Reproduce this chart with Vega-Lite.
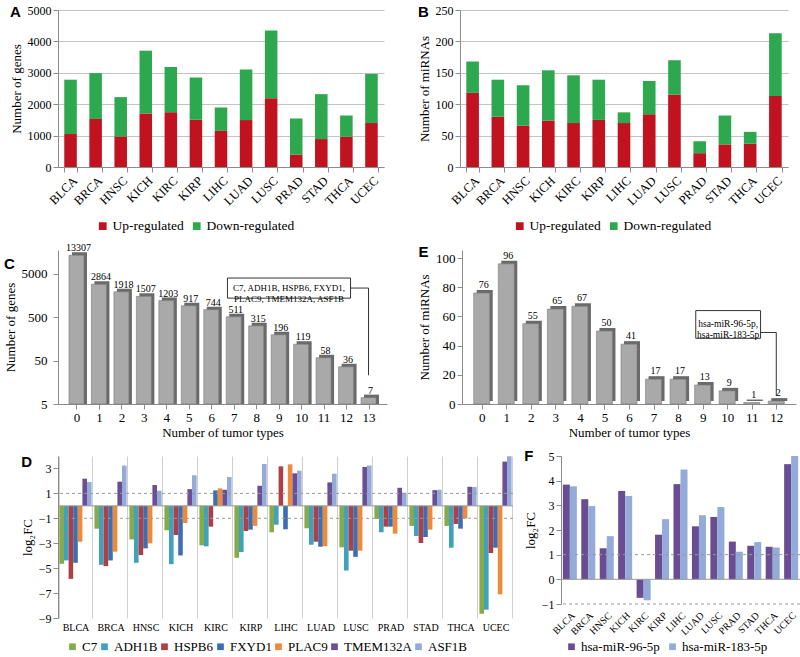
{
  "$schema": "https://vega.github.io/schema/vega-lite/v6.json",
  "padding": {"left": 4, "top": 4, "right": 2, "bottom": 0},
  "background": "white",
  "datasets": {
    "genes": [
      {"t":"BLCA","g":"Up-regulated","n":1050},{"t":"BLCA","g":"Down-regulated","n":1730},
      {"t":"BRCA","g":"Up-regulated","n":1530},{"t":"BRCA","g":"Down-regulated","n":1460},
      {"t":"HNSC","g":"Up-regulated","n":975},{"t":"HNSC","g":"Down-regulated","n":1250},
      {"t":"KICH","g":"Up-regulated","n":1705},{"t":"KICH","g":"Down-regulated","n":2000},
      {"t":"KIRC","g":"Up-regulated","n":1745},{"t":"KIRC","g":"Down-regulated","n":1440},
      {"t":"KIRP","g":"Up-regulated","n":1505},{"t":"KIRP","g":"Down-regulated","n":1345},
      {"t":"LIHC","g":"Up-regulated","n":1150},{"t":"LIHC","g":"Down-regulated","n":745},
      {"t":"LUAD","g":"Up-regulated","n":1495},{"t":"LUAD","g":"Down-regulated","n":1610},
      {"t":"LUSC","g":"Up-regulated","n":2190},{"t":"LUSC","g":"Down-regulated","n":2160},
      {"t":"PRAD","g":"Up-regulated","n":390},{"t":"PRAD","g":"Down-regulated","n":1155},
      {"t":"STAD","g":"Up-regulated","n":890},{"t":"STAD","g":"Down-regulated","n":1430},
      {"t":"THCA","g":"Up-regulated","n":965},{"t":"THCA","g":"Down-regulated","n":675},
      {"t":"UCEC","g":"Up-regulated","n":1400},{"t":"UCEC","g":"Down-regulated","n":1565}
    ],
    "mirnas": [
      {"t":"BLCA","g":"Up-regulated","n":118},{"t":"BLCA","g":"Down-regulated","n":50},
      {"t":"BRCA","g":"Up-regulated","n":80},{"t":"BRCA","g":"Down-regulated","n":59},
      {"t":"HNSC","g":"Up-regulated","n":66},{"t":"HNSC","g":"Down-regulated","n":64},
      {"t":"KICH","g":"Up-regulated","n":74},{"t":"KICH","g":"Down-regulated","n":80},
      {"t":"KIRC","g":"Up-regulated","n":70},{"t":"KIRC","g":"Down-regulated","n":76},
      {"t":"KIRP","g":"Up-regulated","n":75},{"t":"KIRP","g":"Down-regulated","n":64},
      {"t":"LIHC","g":"Up-regulated","n":70},{"t":"LIHC","g":"Down-regulated","n":17},
      {"t":"LUAD","g":"Up-regulated","n":84},{"t":"LUAD","g":"Down-regulated","n":53},
      {"t":"LUSC","g":"Up-regulated","n":115},{"t":"LUSC","g":"Down-regulated","n":55},
      {"t":"PRAD","g":"Up-regulated","n":22},{"t":"PRAD","g":"Down-regulated","n":19},
      {"t":"STAD","g":"Up-regulated","n":36},{"t":"STAD","g":"Down-regulated","n":46},
      {"t":"THCA","g":"Up-regulated","n":37},{"t":"THCA","g":"Down-regulated","n":19},
      {"t":"UCEC","g":"Up-regulated","n":113},{"t":"UCEC","g":"Down-regulated","n":100}
    ],
    "cgenes": [
      {"k":0,"n":13307},{"k":1,"n":2864},{"k":2,"n":1918},{"k":3,"n":1507},{"k":4,"n":1203},
      {"k":5,"n":917},{"k":6,"n":744},{"k":7,"n":511},{"k":8,"n":315},{"k":9,"n":196},
      {"k":10,"n":119},{"k":11,"n":58},{"k":12,"n":36},{"k":13,"n":7}
    ],
    "emirnas": [
      {"k":0,"n":76},{"k":1,"n":96},{"k":2,"n":55},{"k":3,"n":65},{"k":4,"n":67},
      {"k":5,"n":50},{"k":6,"n":41},{"k":7,"n":17},{"k":8,"n":17},{"k":9,"n":13},
      {"k":10,"n":9},{"k":11,"n":1},{"k":12,"n":2}
    ],
    "dfc": [
      {"t":"BLCA","gene":"C7","v":-4.65},{"t":"BLCA","gene":"ADH1B","v":-4.38},{"t":"BLCA","gene":"HSPB6","v":-5.86},{"t":"BLCA","gene":"FXYD1","v":-4.57},{"t":"BLCA","gene":"PLAC9","v":-2.88},{"t":"BLCA","gene":"TMEM132A","v":2.18},{"t":"BLCA","gene":"ASF1B","v":1.91},
      {"t":"BRCA","gene":"C7","v":-1.83},{"t":"BRCA","gene":"ADH1B","v":-4.73},{"t":"BRCA","gene":"HSPB6","v":-4.84},{"t":"BRCA","gene":"FXYD1","v":-4.38},{"t":"BRCA","gene":"PLAC9","v":-3.68},{"t":"BRCA","gene":"TMEM132A","v":1.94},{"t":"BRCA","gene":"ASF1B","v":3.23},
      {"t":"HNSC","gene":"C7","v":-2.69},{"t":"HNSC","gene":"ADH1B","v":-4.57},{"t":"HNSC","gene":"HSPB6","v":-3.95},{"t":"HNSC","gene":"FXYD1","v":-3.41},{"t":"HNSC","gene":"PLAC9","v":-3.01},{"t":"HNSC","gene":"TMEM132A","v":1.67},{"t":"HNSC","gene":"ASF1B","v":1.21},
      {"t":"KICH","gene":"C7","v":-1.96},{"t":"KICH","gene":"ADH1B","v":-4.68},{"t":"KICH","gene":"HSPB6","v":-2.34},{"t":"KICH","gene":"FXYD1","v":-3.98},{"t":"KICH","gene":"PLAC9","v":-1.37},{"t":"KICH","gene":"TMEM132A","v":1.34},{"t":"KICH","gene":"ASF1B","v":2.45},
      {"t":"KIRC","gene":"C7","v":-3.17},{"t":"KIRC","gene":"ADH1B","v":-3.25},{"t":"KIRC","gene":"HSPB6","v":-1.67},{"t":"KIRC","gene":"FXYD1","v":1.24},{"t":"KIRC","gene":"PLAC9","v":1.4},{"t":"KIRC","gene":"TMEM132A","v":1.29},{"t":"KIRC","gene":"ASF1B","v":2.31},
      {"t":"KIRP","gene":"C7","v":-4.17},{"t":"KIRP","gene":"ADH1B","v":-3.71},{"t":"KIRP","gene":"HSPB6","v":-2.02},{"t":"KIRP","gene":"FXYD1","v":-1.91},{"t":"KIRP","gene":"PLAC9","v":-1.61},{"t":"KIRP","gene":"TMEM132A","v":1.61},{"t":"KIRP","gene":"ASF1B","v":3.36},
      {"t":"LIHC","gene":"C7","v":-2.12},{"t":"LIHC","gene":"ADH1B","v":-1.51},{"t":"LIHC","gene":"HSPB6","v":3.17},{"t":"LIHC","gene":"FXYD1","v":-1.88},{"t":"LIHC","gene":"PLAC9","v":3.33},{"t":"LIHC","gene":"TMEM132A","v":2.61},{"t":"LIHC","gene":"ASF1B","v":2.82},
      {"t":"LUAD","gene":"C7","v":-1.8},{"t":"LUAD","gene":"ADH1B","v":-3.12},{"t":"LUAD","gene":"HSPB6","v":-2.88},{"t":"LUAD","gene":"FXYD1","v":-3.28},{"t":"LUAD","gene":"PLAC9","v":-3.23},{"t":"LUAD","gene":"TMEM132A","v":1.88},{"t":"LUAD","gene":"ASF1B","v":2.58},
      {"t":"LUSC","gene":"C7","v":-3.33},{"t":"LUSC","gene":"ADH1B","v":-5.19},{"t":"LUSC","gene":"HSPB6","v":-3.6},{"t":"LUSC","gene":"FXYD1","v":-4.09},{"t":"LUSC","gene":"PLAC9","v":-3.6},{"t":"LUSC","gene":"TMEM132A","v":3.12},{"t":"LUSC","gene":"ASF1B","v":3.23},
      {"t":"PRAD","gene":"C7","v":-1.05},{"t":"PRAD","gene":"ADH1B","v":-2.12},{"t":"PRAD","gene":"HSPB6","v":-1.67},{"t":"PRAD","gene":"FXYD1","v":-1.67},{"t":"PRAD","gene":"PLAC9","v":-2.23},{"t":"PRAD","gene":"TMEM132A","v":1.45},{"t":"PRAD","gene":"ASF1B","v":1.05},
      {"t":"STAD","gene":"C7","v":-1.61},{"t":"STAD","gene":"ADH1B","v":-2.42},{"t":"STAD","gene":"HSPB6","v":-2.98},{"t":"STAD","gene":"FXYD1","v":-2.5},{"t":"STAD","gene":"PLAC9","v":-1.91},{"t":"STAD","gene":"TMEM132A","v":1.26},{"t":"STAD","gene":"ASF1B","v":1.29},
      {"t":"THCA","gene":"C7","v":-1.61},{"t":"THCA","gene":"ADH1B","v":-3.36},{"t":"THCA","gene":"HSPB6","v":-1.45},{"t":"THCA","gene":"FXYD1","v":-1.83},{"t":"THCA","gene":"PLAC9","v":-1.02},{"t":"THCA","gene":"TMEM132A","v":1.53},{"t":"THCA","gene":"ASF1B","v":1.51},
      {"t":"UCEC","gene":"C7","v":-8.66},{"t":"UCEC","gene":"ADH1B","v":-8.33},{"t":"UCEC","gene":"HSPB6","v":-3.79},{"t":"UCEC","gene":"FXYD1","v":-3.36},{"t":"UCEC","gene":"PLAC9","v":-7.1},{"t":"UCEC","gene":"TMEM132A","v":3.55},{"t":"UCEC","gene":"ASF1B","v":3.98}
    ],
    "ffc": [
      {"t":"BLCA","m":"hsa-miR-96-5p","v":3.84},{"t":"BLCA","m":"hsa-miR-183-5p","v":3.77},
      {"t":"BRCA","m":"hsa-miR-96-5p","v":3.25},{"t":"BRCA","m":"hsa-miR-183-5p","v":2.97},
      {"t":"HNSC","m":"hsa-miR-96-5p","v":1.26},{"t":"HNSC","m":"hsa-miR-183-5p","v":1.75},
      {"t":"KICH","m":"hsa-miR-96-5p","v":3.58},{"t":"KICH","m":"hsa-miR-183-5p","v":3.38},
      {"t":"KIRC","m":"hsa-miR-96-5p","v":-0.75},{"t":"KIRC","m":"hsa-miR-183-5p","v":-0.85},
      {"t":"KIRP","m":"hsa-miR-96-5p","v":1.81},{"t":"KIRP","m":"hsa-miR-183-5p","v":2.44},
      {"t":"LIHC","m":"hsa-miR-96-5p","v":3.86},{"t":"LIHC","m":"hsa-miR-183-5p","v":4.45},
      {"t":"LUAD","m":"hsa-miR-96-5p","v":2.15},{"t":"LUAD","m":"hsa-miR-183-5p","v":2.6},
      {"t":"LUSC","m":"hsa-miR-96-5p","v":2.53},{"t":"LUSC","m":"hsa-miR-183-5p","v":2.93},
      {"t":"PRAD","m":"hsa-miR-96-5p","v":1.53},{"t":"PRAD","m":"hsa-miR-183-5p","v":1.12},
      {"t":"STAD","m":"hsa-miR-96-5p","v":1.36},{"t":"STAD","m":"hsa-miR-183-5p","v":1.51},
      {"t":"THCA","m":"hsa-miR-96-5p","v":1.32},{"t":"THCA","m":"hsa-miR-183-5p","v":1.29},
      {"t":"UCEC","m":"hsa-miR-96-5p","v":4.67},{"t":"UCEC","m":"hsa-miR-183-5p","v":5.0}
    ],
    "thresh": [{"y":1},{"y":-1}],
    "zero": [{"y":0}],
    "cbox": [{"x1":6.72,"x2":12.2,"y1":1370,"y2":3980}],
    "ctext": [{"x":9.46,"y":2330,"label":"C7, ADH1B, HSPB6, FXYD1,\nPLAC9, TMEM132A, ASF1B"}],
    "cline": [{"x":12.2,"y":2340,"o":1},{"x":13,"y":2340,"o":2},{"x":13,"y":23,"o":3}],
    "ebox": [{"x1":8.72,"x2":11.36,"y1":45,"y2":64}],
    "etext": [{"x":10.04,"y":54.5,"label":"hsa-miR-96-5p,\nhsa-miR-183-5p"}],
    "eline": [{"x":11.36,"y":49,"o":1},{"x":12,"y":49,"o":2},{"x":12,"y":5.5,"o":3}]
  },
  "config": {
    "font": "Liberation Serif",
    "view": {"stroke": null},
    "axis": {
      "labelFont": "Liberation Serif", "titleFont": "Liberation Serif",
      "titleFontWeight": "normal", "labelColor": "#000", "titleColor": "#000",
      "domainColor": "#8c8c8c", "tickColor": "#8c8c8c", "labelFontSize": 12, "titleFontSize": 13,
      "grid": false, "labelOverlap": false
    },
    "legend": {
      "labelFont": "Liberation Serif", "labelFontSize": 13, "labelColor": "#000",
      "symbolType": "square", "symbolStrokeWidth": 0, "orient": "none", "direction": "horizontal", "title": null
    },
    "title": {"font": "Liberation Sans", "fontWeight": "bold", "fontSize": 15, "anchor": "start", "frame": "bounds", "color": "#000"}
  },
  "spacing": 10,
  "resolve": {"scale": {"color": "independent", "xOffset": "independent"}, "legend": {"color": "independent"}},
  "vconcat": [
    {
      "spacing": 34,
      "resolve": {"scale": {"color": "independent"}, "legend": {"color": "independent"}},
      "hconcat": [
        {
          "width": 326, "height": 157,
          "title": {"text": "A", "offset": -16},
          "data": {"name": "genes"},
          "mark": {"type": "bar"},
          "encoding": {
            "x": {"field": "t", "type": "nominal", "sort": null, "title": null,
                  "scale": {"paddingInner": 0.5, "paddingOuter": 0.25},
                  "axis": {"labelAngle": -45, "labelFontSize": 12.5, "tickBand": "extent", "labelPadding": 2}},
            "y": {"field": "n", "type": "quantitative", "stack": "zero", "title": "Number of genes",
                  "scale": {"domain": [0, 5000]},
                  "axis": {"values": [0,1000,2000,3000,4000,5000], "format": "d", "grid": true, "gridColor": "#c4c4c4"}},
            "color": {"field": "g", "type": "nominal",
                      "scale": {"domain": ["Up-regulated", "Down-regulated"], "range": ["#C0121F", "#2EA84E"]},
                      "legend": {"labelFontSize": 13.5, "legendX": 38, "legendY": 209, "columnPadding": 6, "symbolSize": 60, "labelOffset": 3}},
            "order": {"field": "g", "sort": "descending"}
          }
        },
        {
          "width": 328, "height": 157,
          "title": {"text": "B", "offset": -16},
          "data": {"name": "mirnas"},
          "mark": {"type": "bar"},
          "encoding": {
            "x": {"field": "t", "type": "nominal", "sort": null, "title": null,
                  "scale": {"paddingInner": 0.5, "paddingOuter": 0.25},
                  "axis": {"labelAngle": -45, "labelFontSize": 12.5, "tickBand": "extent", "labelPadding": 2}},
            "y": {"field": "n", "type": "quantitative", "stack": "zero", "title": "Number of miRNAs",
                  "scale": {"domain": [0, 250]},
                  "axis": {"values": [0,50,100,150,200,250], "grid": true, "gridColor": "#c4c4c4"}},
            "color": {"field": "g", "type": "nominal",
                      "scale": {"domain": ["Up-regulated", "Down-regulated"], "range": ["#C0121F", "#2EA84E"]},
                      "legend": {"labelFontSize": 13.5, "legendX": 53, "legendY": 209, "columnPadding": 6, "symbolSize": 60, "labelOffset": 3}},
            "order": {"field": "g", "sort": "descending"}
          }
        }
      ]
    },
    {
      "spacing": 31,
      "hconcat": [
        {
          "width": 329, "height": 154,
          "title": {"text": "C", "offset": -29},
          "layer": [
            {
              "data": {"name": "cgenes"},
              "mark": {"type": "bar", "width": 15, "color": "#6a6a6a", "xOffset": 3, "yOffset": -3},
              "encoding": {
                "x": {"field": "k", "type": "quantitative", "title": "Number of tumor types",
                      "scale": {"domain": [-0.6, 13.6], "nice": false, "zero": false},
                      "axis": {"values": [0,1,2,3,4,5,6,7,8,9,10,11,12,13], "tickCount": 14, "labelFontSize": 13, "titleFontSize": 13, "titlePadding": 2}},
                "y": {"field": "n", "type": "quantitative", "title": "Number of genes",
                      "scale": {"type": "log", "domain": [5, 17600], "nice": false},
                      "axis": {"values": [5, 50, 500, 5000], "labelFontSize": 13, "format": "d", "labelPadding": 6}},
                "y2": {"datum": 5}
              }
            },
            {
              "data": {"name": "cgenes"},
              "mark": {"type": "bar", "width": 15, "color": "#a9a9a9", "stroke": "#7a7a7a", "strokeWidth": 0.6},
              "encoding": {
                "x": {"field": "k", "type": "quantitative", "title": "Number of tumor types"},
                "y": {"field": "n", "type": "quantitative", "title": "Number of genes"},
                "y2": {"datum": 5}
              }
            },
            {
              "data": {"name": "cgenes"},
              "mark": {"type": "text", "fontSize": 10, "dy": -2, "dx": 2, "baseline": "bottom"},
              "encoding": {
                "x": {"field": "k", "type": "quantitative", "title": "Number of tumor types"},
                "y": {"field": "n", "type": "quantitative", "title": "Number of genes"},
                "text": {"field": "n", "type": "quantitative", "format": "d"}
              }
            },
            {
              "data": {"name": "cbox"},
              "mark": {"type": "rect", "fill": "white", "stroke": "#333", "strokeWidth": 1},
              "encoding": {
                "x": {"field": "x1", "type": "quantitative", "title": "Number of tumor types"},
                "x2": {"field": "x2"},
                "y": {"field": "y1", "type": "quantitative", "title": "Number of genes"},
                "y2": {"field": "y2"}
              }
            },
            {
              "data": {"name": "ctext"},
              "mark": {"type": "text", "fontSize": 9, "lineBreak": "\n", "align": "center", "baseline": "middle", "lineHeight": 10.5},
              "encoding": {
                "x": {"field": "x", "type": "quantitative", "title": "Number of tumor types"},
                "y": {"field": "y", "type": "quantitative", "title": "Number of genes"},
                "text": {"field": "label"}
              }
            },
            {
              "data": {"name": "cline"},
              "mark": {"type": "line", "color": "#333", "strokeWidth": 1},
              "encoding": {
                "x": {"field": "x", "type": "quantitative", "title": "Number of tumor types"},
                "y": {"field": "y", "type": "quantitative", "title": "Number of genes"},
                "order": {"field": "o"}
              }
            }
          ]
        },
        {
          "width": 334, "height": 154,
          "title": {"text": "E", "offset": -10},
          "layer": [
            {
              "data": {"name": "emirnas"},
              "mark": {"type": "bar", "width": 16, "color": "#6a6a6a", "xOffset": 3, "yOffset": -3},
              "encoding": {
                "x": {"field": "k", "type": "quantitative", "title": "Number of tumor types",
                      "scale": {"domain": [-0.6, 12.6], "nice": false, "zero": false},
                      "axis": {"values": [0,1,2,3,4,5,6,7,8,9,10,11,12], "tickCount": 13, "labelFontSize": 13, "titleFontSize": 13, "titlePadding": 2}},
                "y": {"field": "n", "type": "quantitative", "title": "Number of miRNAs",
                      "scale": {"domain": [0, 105.5], "nice": false},
                      "axis": {"values": [0, 20, 40, 60, 80, 100], "tickCount": 6, "labelFontSize": 13}}
              }
            },
            {
              "data": {"name": "emirnas"},
              "mark": {"type": "bar", "width": 16, "color": "#a9a9a9", "stroke": "#7a7a7a", "strokeWidth": 0.6},
              "encoding": {
                "x": {"field": "k", "type": "quantitative", "title": "Number of tumor types"},
                "y": {"field": "n", "type": "quantitative", "title": "Number of miRNAs"}
              }
            },
            {
              "data": {"name": "emirnas"},
              "mark": {"type": "text", "fontSize": 10, "dy": -3, "dx": 2, "baseline": "bottom"},
              "encoding": {
                "x": {"field": "k", "type": "quantitative", "title": "Number of tumor types"},
                "y": {"field": "n", "type": "quantitative", "title": "Number of miRNAs"},
                "text": {"field": "n", "type": "quantitative", "format": "d"}
              }
            },
            {
              "data": {"name": "ebox"},
              "mark": {"type": "rect", "fill": "white", "stroke": "#333", "strokeWidth": 1},
              "encoding": {
                "x": {"field": "x1", "type": "quantitative", "title": "Number of tumor types"},
                "x2": {"field": "x2"},
                "y": {"field": "y1", "type": "quantitative", "title": "Number of miRNAs"},
                "y2": {"field": "y2"}
              }
            },
            {
              "data": {"name": "etext"},
              "mark": {"type": "text", "fontSize": 9.5, "lineBreak": "\n", "align": "center", "baseline": "middle", "lineHeight": 11},
              "encoding": {
                "x": {"field": "x", "type": "quantitative", "title": "Number of tumor types"},
                "y": {"field": "y", "type": "quantitative", "title": "Number of miRNAs"},
                "text": {"field": "label"}
              }
            },
            {
              "data": {"name": "eline"},
              "mark": {"type": "line", "color": "#333", "strokeWidth": 1},
              "encoding": {
                "x": {"field": "x", "type": "quantitative", "title": "Number of tumor types"},
                "y": {"field": "y", "type": "quantitative", "title": "Number of miRNAs"},
                "order": {"field": "o"}
              }
            }
          ]
        }
      ]
    },
    {
      "spacing": 10,
      "resolve": {"scale": {"color": "independent", "xOffset": "independent"}, "legend": {"color": "independent"}},
      "hconcat": [
        {
          "width": 455, "height": 162,
          "title": {"text": "D", "offset": -14},
          "layer": [
            {
              "data": {"name": "dfc"},
              "mark": {"type": "bar"},
              "encoding": {
                "x": {"field": "t", "type": "nominal", "sort": null, "title": null,
                      "scale": {"paddingInner": 0.08, "paddingOuter": 0.04},
                      "axis": {"labelAngle": 0, "labelFontSize": 10, "tickBand": "extent", "grid": true, "gridColor": "#cfcfcf", "domain": false, "ticks": false, "labelPadding": 4}},
                "xOffset": {"field": "gene", "type": "nominal", "scale": {"domain": ["C7","ADH1B","HSPB6","FXYD1","PLAC9","TMEM132A","ASF1B"], "paddingInner": 0}},
                "y": {"field": "v", "type": "quantitative", "title": "log₂FC",
                      "scale": {"domain": [-9, 4], "nice": false},
                      "axis": {"values": [3, 1, -1, -3, -5, -7, -9], "tickCount": 7, "labelFontSize": 12, "titleFontSize": 13}},
                "color": {"field": "gene", "type": "nominal",
                          "scale": {"domain": ["C7","ADH1B","HSPB6","FXYD1","PLAC9","TMEM132A","ASF1B"],
                                    "range": ["#86AB4B","#3FA1BB","#AD4046","#3E6EB0","#EE8B3B","#6B4E94","#94ABDA"]},
                          "legend": {"labelFontSize": 13, "columnPadding": 0, "symbolSize": 45, "labelOffset": 3, "legendX": 8, "legendY": 184}}
              }
            },
            {
              "data": {"name": "thresh"},
              "mark": {"type": "rule", "color": "#9a9a9a", "strokeDash": [3, 3], "strokeWidth": 1},
              "encoding": {"y": {"field": "y", "type": "quantitative", "title": "log₂FC"}}
            },
            {
              "data": {"name": "zero"},
              "mark": {"type": "rule", "color": "#9a9a9a", "strokeWidth": 1},
              "encoding": {"y": {"field": "y", "type": "quantitative", "title": "log₂FC"}}
            }
          ]
        },
        {
          "width": 239, "height": 148,
          "title": {"text": "F", "offset": -14},
          "layer": [
            {
              "data": {"name": "ffc"},
              "mark": {"type": "bar"},
              "encoding": {
                "x": {"field": "t", "type": "nominal", "sort": null, "title": null,
                      "scale": {"paddingInner": 0.24, "paddingOuter": 0.1},
                      "axis": {"labelAngle": -45, "labelFontSize": 10, "domain": false, "ticks": false, "labelPadding": 6}},
                "xOffset": {"field": "m", "type": "nominal", "scale": {"domain": ["hsa-miR-96-5p","hsa-miR-183-5p"], "paddingInner": 0}},
                "y": {"field": "v", "type": "quantitative", "title": "log₂FC",
                      "scale": {"domain": [-1, 5], "nice": false},
                      "axis": {"values": [-1, 0, 1, 2, 3, 4, 5], "tickCount": 7, "labelFontSize": 12, "titleFontSize": 13}},
                "color": {"field": "m", "type": "nominal",
                          "scale": {"domain": ["hsa-miR-96-5p","hsa-miR-183-5p"], "range": ["#6A4C92","#94ABDA"]},
                          "legend": {"labelFontSize": 13, "columnPadding": 6, "symbolSize": 45, "labelOffset": 3, "legendX": 4, "legendY": 184}}
              }
            },
            {
              "data": {"name": "thresh"},
              "mark": {"type": "rule", "color": "#9a9a9a", "strokeDash": [3, 3], "strokeWidth": 1},
              "encoding": {"y": {"field": "y", "type": "quantitative", "title": "log₂FC"}}
            },
            {
              "data": {"name": "zero"},
              "mark": {"type": "rule", "color": "#9a9a9a", "strokeWidth": 1},
              "encoding": {"y": {"field": "y", "type": "quantitative", "title": "log₂FC"}}
            }
          ]
        }
      ]
    }
  ]
}
